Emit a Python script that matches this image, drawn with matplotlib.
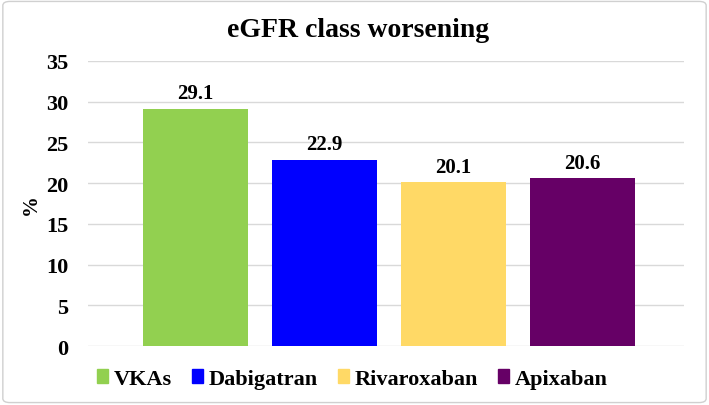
import matplotlib.pyplot as plt
from matplotlib.patches import FancyBboxPatch

drugs = ['VKAs', 'Dabigatran', 'Rivaroxaban', 'Apixaban']
pct = [29.1, 22.9, 20.1, 20.6]
colors = ['#92D050', '#0000FF', '#FFD966', '#660066']
yticks = [0, 5, 10, 15, 20, 25, 30, 35]

plt.rcParams['font.family'] = ['Liberation Serif', 'DejaVu Serif']
plt.rcParams['font.weight'] = 'bold'

fig = plt.figure(figsize=(7.09, 4.06), dpi=100)
ax = fig.add_axes([0.124, 0.1453, 0.841, 0.702])

x = list(range(len(drugs)))
bars = ax.bar(x, pct, width=0.81, color=colors, label=drugs, zorder=3)
for xi, v in zip(x, pct):
    ax.text(xi, v + 0.7, f'{v:.1f}', ha='center', va='bottom', fontsize=15, fontweight='bold')

ax.set_ylim(0, 35)
ax.set_xlim(-0.833, 3.79)
ax.set_yticks(yticks)
ax.set_yticklabels([str(t) for t in yticks], fontsize=16, fontweight='bold')
ax.set_xticks([])
ax.tick_params(axis='y', length=0, pad=14)
ax.grid(axis='y', color='#D9D9D9', linewidth=1, zorder=0)
for s in ax.spines.values():
    s.set_visible(False)
ax.set_ylabel('%', fontsize=15, fontweight='bold', labelpad=4)

fig.text(0.505, 0.925, 'eGFR class worsening', ha='center', va='center', fontsize=20, fontweight='bold')

handles = [plt.Rectangle((0, 0), 1, 1, color=c) for c in colors]
fig.legend(handles, drugs, loc='center', bbox_to_anchor=(0.497, 0.064), ncol=4, frameon=False,
           prop={'size': 16, 'weight': 'bold'}, handlelength=0.5, handleheight=0.6,
           handletextpad=0.25, columnspacing=0.9)

border = FancyBboxPatch((0.004, 0.006), 0.992, 0.988, boxstyle='round,pad=0,rounding_size=0.01',
                        transform=fig.transFigure, facecolor='none', edgecolor='#D0D0D0', linewidth=1)
fig.patches.append(border)

plt.savefig('out.png', dpi=100)
